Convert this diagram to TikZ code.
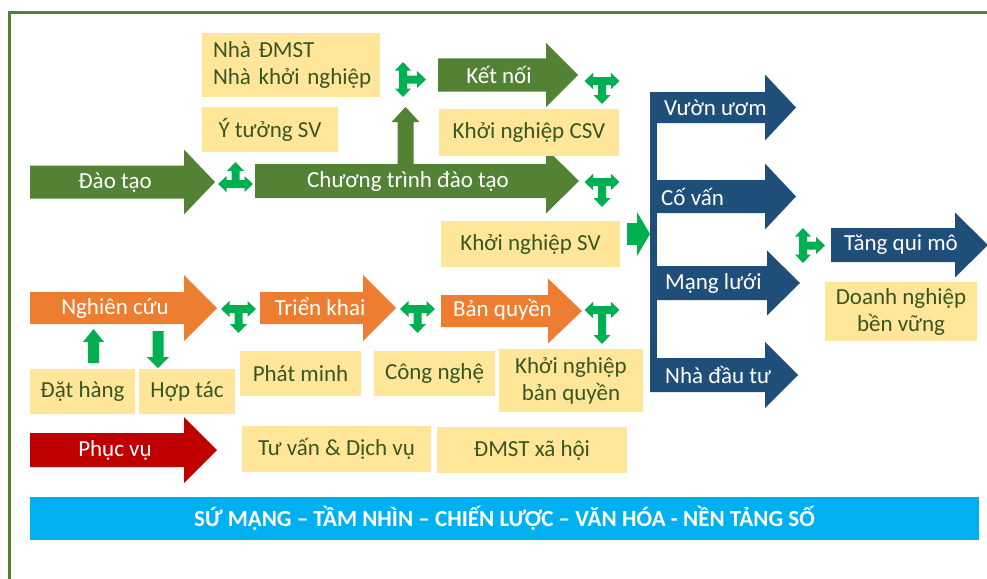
\documentclass[tikz,border=0pt]{standalone}
\usepackage{fontspec}
\setmainfont{Carlito}
\usepackage{xcolor}
\usepackage{tikz}
\usetikzlibrary{calc}
\definecolor{framegreen}{RGB}{84, 130, 53}
\definecolor{arrowgreen}{RGB}{84, 130, 53}
\definecolor{arroworange}{RGB}{237, 125, 49}
\definecolor{arrowred}{RGB}{192, 0, 0}
\definecolor{navyblue}{RGB}{31, 78, 121}
\definecolor{brightgreen}{RGB}{0, 176, 80}
\definecolor{boxyellow}{RGB}{255, 230, 153}
\definecolor{boxtext}{RGB}{55, 86, 35}
\definecolor{bannercyan}{RGB}{0, 176, 240}

% block arrow: colour, x start, x head base, x tip, y centre, body half, head half
\newcommand{\flowarrow}[7]{%
  \fill[#1] (#2,#5-#6) -- (#3,#5-#6) -- (#3,#5-#7) -- (#4,#5)
    -- (#3,#5+#7) -- (#3,#5+#6) -- (#2,#5+#6) -- cycle;}
% vertical arrow: colour, x centre, y start, y head base, y tip, shaft half, head half
\newcommand{\vertarrow}[7]{%
  \fill[#1] (#2-#6,#3) -- (#2-#6,#4) -- (#2-#7,#4) -- (#2,#5)
    -- (#2+#7,#4) -- (#2+#6,#4) -- (#2+#6,#3) -- cycle;}
% double arrow with a branch: x, y, rotation, branch length
\newcommand{\teearrow}[4]{%
  \fill[brightgreen, shift={(#1,#2)}, rotate=#3]
    (-17.5,0) -- (-9,-8) -- (-9,-4) -- (9,-4) -- (9,-8) -- (17.5,0)
    -- (9,8) -- (9,4) -- (4,4) -- (4,#4-9) -- (8.5,#4-9)
    -- (0,#4) -- (-8.5,#4-9) -- (-4,#4-9) -- (-4,4)
    -- (-9,4) -- (-9,8) -- cycle;}

\begin{document}
\begin{tikzpicture}[x=1pt, y=-1pt,
    ybox/.style={fill=boxyellow, text=boxtext, inner sep=0pt,
                 font=\fontsize{23}{27}\selectfont, align=center},
    wlabel/.style={text=white, inner sep=0pt, font=\fontsize{23}{27}\selectfont}]

\useasboundingbox (0,0) rectangle (987,578);

% Frame
\draw[framegreen, line width=3.5pt] (9.5,620) -- (9.5,12.5) -- (1010,12.5);

% Top row: training
\flowarrow{arrowgreen}{30}{184}{215}{182}{16.5}{32.5}
\node[wlabel] (daotao) at (115,183) {Đào tạo};
\teearrow{235.5}{184}{180}{22}
\flowarrow{arrowgreen}{255}{546}{579}{181}{17}{32.5}
\node[wlabel] (chuongtrinh) at (408,181) {Chương trình đào tạo};
\vertarrow{arrowgreen}{405.5}{164}{122}{107}{8}{14}
\teearrow{403}{79.5}{90}{23}
\flowarrow{arrowgreen}{438}{546}{578}{75}{16.5}{32}
\node[wlabel] (ketnoi) at (499,75) {Kết nối};
\teearrow{602}{81}{0}{23}
\teearrow{602}{182}{0}{25}

\node[ybox, minimum width=178pt, minimum height=64pt, align=left,
      text width=156pt] (nhadmst) at (291,65)
    {\mbox{Nhà ĐMST}\\\mbox{Nhà khởi nghiệp}};
\node[ybox, minimum width=136pt, minimum height=45pt] (ytuong) at (270,129.5) {Ý tưởng SV};
\node[ybox, minimum width=180pt, minimum height=47pt] (kncsv) at (529,132.5) {Khởi nghiệp CSV};
\node[ybox, minimum width=179pt, minimum height=46pt] (knsv) at (530.5,244) {Khởi nghiệp SV};

% Middle row: research
\flowarrow{arroworange}{30}{184}{217}{308}{16}{33}
\node[wlabel] (nghiencuu) at (115,308) {Nghiên cứu};
\teearrow{238.5}{309}{0}{24}
\flowarrow{arroworange}{260}{363}{396}{308}{16}{33}
\node[wlabel] (trienkhai) at (320,307) {Triển khai};
\teearrow{417.5}{309}{0}{24}
\flowarrow{arroworange}{441}{548}{582}{311}{16}{32.5}
\node[wlabel] (banquyen) at (502.5,310) {Bản quyền};
\teearrow{602}{310}{0}{34}
\vertarrow{brightgreen}{93.5}{363}{342}{329}{5.5}{10.5}
\vertarrow{brightgreen}{158}{331}{357}{368}{5.5}{11}

\node[ybox, minimum width=105pt, minimum height=45pt] (dathang) at (82.5,391.5) {Đặt hàng};
\node[ybox, minimum width=96pt, minimum height=45pt] (hoptac) at (187,391.5) {Hợp tác};
\node[ybox, minimum width=121pt, minimum height=45pt] (phatminh) at (300.5,373.5) {Phát minh};
\node[ybox, minimum width=121pt, minimum height=45pt] (congnghe) at (434.5,373.5) {Công nghệ};
\node[ybox, minimum width=144pt, minimum height=63pt] (knbanquyen) at (571,380.5) {Khởi nghiệp\\bản quyền};

% Bottom row: service
\flowarrow{arrowred}{30}{184}{217}{450}{17}{33}
\node[wlabel] (phucvu) at (115,450) {Phục vụ};
\node[ybox, minimum width=189pt, minimum height=46pt] (tuvan) at (336.5,449) {Tư vấn \& Dịch vụ};
\node[ybox, minimum width=190pt, minimum height=46pt] (dmstxh) at (532,450) {ĐMST xã hội};

% Support bracket
\flowarrow{brightgreen}{627}{637}{650}{234}{11}{22}
\fill[navyblue] (650,92) rectangle (657,392);
\flowarrow{navyblue}{650}{765}{796}{107.5}{15.5}{33}
\flowarrow{navyblue}{650}{765}{796}{196.5}{16.5}{33}
\flowarrow{navyblue}{650}{767}{800}{283}{17}{32.5}
\flowarrow{navyblue}{650}{765}{798}{375}{17}{33}
\node[wlabel, anchor=west] (vuonuom) at (664,108) {Vườn ươm};
\node[wlabel, anchor=west] (covan) at (661,197) {Cố vấn};
\node[wlabel, anchor=west] (mangluoi) at (665,283) {Mạng lưới};
\node[wlabel, anchor=west] (nhadautu) at (665,375) {Nhà đầu tư};

% Scale up
\teearrow{803}{245.5}{90}{22}
\flowarrow{navyblue}{831}{955}{988}{245}{17}{32.5}
\node[wlabel] (tangquimo) at (901,245) {Tăng qui mô};
\node[ybox, minimum width=152pt, minimum height=59pt] (doanhnghiep) at (901,311.5) {Doanh nghiệp\\bền vững};

% Foundation banner
\node[fill=bannercyan, text=white, inner sep=0pt, minimum width=949pt, minimum height=43pt,
      font=\fontsize{23}{26}\selectfont\bfseries] (nentang) at (504.5,518.5)
    {SỨ MẠNG – TẦM NHÌN – CHIẾN LƯỢC – VĂN HÓA - NỀN TẢNG SỐ};

\end{tikzpicture}
\end{document}
